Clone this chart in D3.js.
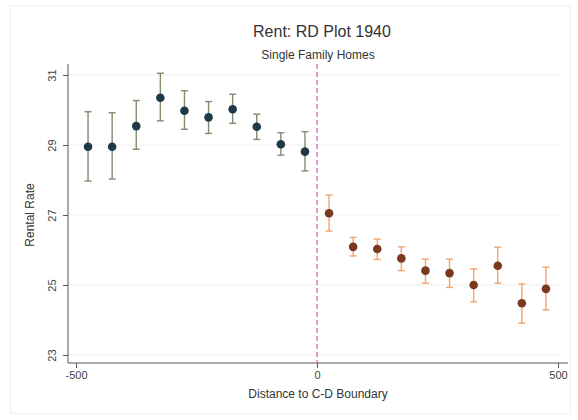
<!DOCTYPE html>
<html><head><meta charset="utf-8">
<script src="https://cdn.jsdelivr.net/npm/d3@7"></script>
<style>body{margin:0;background:#fff}svg{display:block;font-family:"Liberation Sans",Arial,sans-serif}</style>
</head><body><svg id="c" width="578" height="420"></svg>
<script>
const leftX = [-475,-425,-375,-325,-275,-225,-175,-125,-75,-25];
const leftY = [28.95,28.95,29.54,30.35,29.98,29.79,30.02,29.52,29.02,28.81];
const leftLo = [27.97,28.03,28.88,29.69,29.45,29.33,29.62,29.16,28.71,28.26];
const leftHi = [29.95,29.92,30.27,31.05,30.55,30.24,30.45,29.88,29.35,29.38];
const rightX = [25,75,125,175,225,275,325,375,425,475];
const rightY = [27.05,26.09,26.03,25.76,25.41,25.34,25.0,25.55,24.48,24.89];
const rightLo = [26.54,25.83,25.73,25.41,25.05,24.93,24.52,25.05,23.91,24.29];
const rightHi = [27.57,26.36,26.31,26.09,25.74,25.74,25.46,26.08,25.03,25.51];
const xTicks = [-500,0,500];
const yTicks = [23,25,27,29,31];

const svg = d3.select("#c");
const x = d3.scaleLinear().domain([-500,500]).range([76,558]);
const y = d3.scaleLinear().domain([23,31]).range([355,75]);
const pL = 68, pR = 568, pT = 64, pB = 363;

svg.append("rect").attr("x",10.5).attr("y",5.5).attr("width",560).attr("height",408)
  .attr("fill","none").attr("stroke","#f0f0f0");

// gridlines
svg.append("g").selectAll("line").data(yTicks).join("line")
  .attr("x1",pL).attr("x2",pR-8).attr("y1",d=>y(d)).attr("y2",d=>y(d))
  .attr("stroke","#efefef").attr("stroke-width",1);

// axes
const ya = svg.append("g").attr("transform",`translate(${pL},0)`)
  .call(d3.axisLeft(y).tickValues(yTicks).tickSize(5).tickPadding(8).tickFormat(d=>String(d)));
ya.select(".domain").remove();
ya.selectAll(".tick line").attr("stroke","#555");
ya.selectAll(".tick text").attr("transform","rotate(-90)").attr("x",0).attr("y",-16)
  .attr("dy","0.35em").attr("text-anchor","middle").attr("font-size",11).attr("fill","#444");
svg.append("line").attr("x1",pL).attr("x2",pL).attr("y1",pT).attr("y2",pB).attr("stroke","#555");

const xa = svg.append("g").attr("transform",`translate(0,${pB})`)
  .call(d3.axisBottom(x).tickValues(xTicks).tickSize(5).tickPadding(3).tickFormat(d=>String(d)));
xa.select(".domain").remove();
xa.selectAll(".tick line").attr("stroke","#555");
xa.selectAll(".tick text").attr("font-size",11).attr("fill","#444");
svg.append("line").attr("x1",pL).attr("x2",pR).attr("y1",pB).attr("y2",pB).attr("stroke","#555");

// dashed boundary
svg.append("line").attr("x1",x(0)).attr("x2",x(0)).attr("y1",pT).attr("y2",pB)
  .attr("stroke","#d66aa6").attr("stroke-width",1.3).attr("stroke-dasharray","5,3");

function series(xs, ys, lo, hi, barColor, dotColor){
  const g = svg.append("g");
  const d = xs.map((v,i)=>({x:v,y:ys[i],lo:lo[i],hi:hi[i]}));
  g.selectAll("line.v").data(d).join("line").attr("class","v")
    .attr("x1",e=>x(e.x)).attr("x2",e=>x(e.x)).attr("y1",e=>y(e.lo)).attr("y2",e=>y(e.hi))
    .attr("stroke",barColor).attr("stroke-width",1.4);
  ["lo","hi"].forEach(k=>{
    g.selectAll("line."+k).data(d).join("line").attr("class",k)
      .attr("x1",e=>x(e.x)-3.5).attr("x2",e=>x(e.x)+3.5).attr("y1",e=>y(e[k])).attr("y2",e=>y(e[k]))
      .attr("stroke",barColor).attr("stroke-width",1.4);
  });
  g.selectAll("circle").data(d).join("circle")
    .attr("cx",e=>x(e.x)).attr("cy",e=>y(e.y)).attr("r",4.3).attr("fill",dotColor);
}
series(leftX,leftY,leftLo,leftHi,"#7f8d70","#1e3a48");
series(rightX,rightY,rightLo,rightHi,"#f2a56e","#7a3820");

// titles
svg.append("text").attr("x",322).attr("y",37).attr("text-anchor","middle")
  .attr("font-size",16).attr("fill","#333").text("Rent: RD Plot 1940");
svg.append("text").attr("x",318).attr("y",59).attr("text-anchor","middle")
  .attr("font-size",12).attr("fill","#333").text("Single Family Homes");
svg.append("text").attr("x",318).attr("y",398).attr("text-anchor","middle")
  .attr("font-size",12).attr("fill","#333").text("Distance to C-D Boundary");
svg.append("text").attr("transform","translate(34,215) rotate(-90)").attr("text-anchor","middle")
  .attr("font-size",12).attr("fill","#333").text("Rental Rate");
</script></body></html>
